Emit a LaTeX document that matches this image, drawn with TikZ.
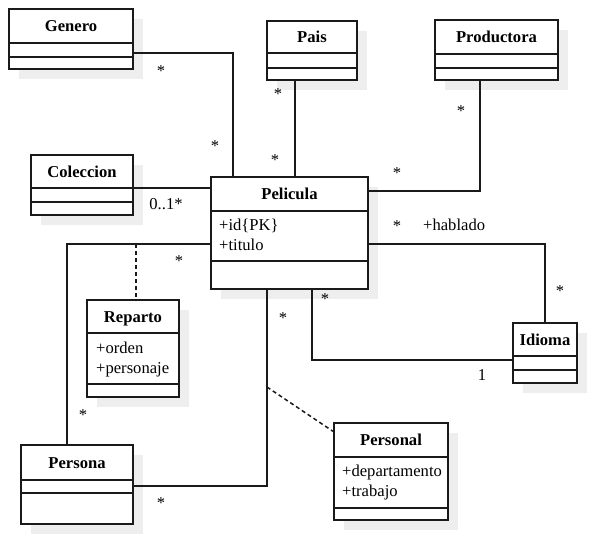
\documentclass[tikz,border=0pt]{standalone}
\usepackage{fontspec}
\setmainfont{Liberation Serif}
\usetikzlibrary{calc}
\definecolor{shadowgray}{HTML}{EEEEEE}
\definecolor{linec}{HTML}{1A1A1A}
\tikzset{
  cls/.style={draw=linec, line width=1.5pt, fill=white, inner sep=0pt, outer sep=0pt, anchor=north west},
  sepline/.style={draw=linec, line width=1.5pt},
  titletext/.style={font=\fontsize{16.6}{20}\selectfont\bfseries, anchor=base, inner sep=0pt},
  attrtext/.style={font=\fontsize{16.6}{20}\selectfont, anchor=base west, inner sep=0pt},
  multtext/.style={font=\fontsize{16.6}{20}\selectfont, anchor=base, inner sep=0pt},
  assoc/.style={draw=linec, line width=1.5pt},
  dep/.style={draw=linec, line width=1.5pt, dash pattern=on 4pt off 3pt},
}
% #1 name, #2 x1, #3 y1, #4 x2, #5 y2, #6 header line y, #7 second line y, #8 title
\newcommand{\umlcls}[8]{%
  \fill[shadowgray] (#2+10,#3+10) rectangle (#4+10,#5+10);
  \node[cls, minimum width={#4-#2}, minimum height={#5-#3}] (#1) at (#2,#3) {};
  \draw[sepline] (#2,#6) -- (#4,#6);
  \draw[sepline] (#2,#7) -- (#4,#7);
  \node[titletext] (#1-t) at ({(#2+#4)/2},{(#3+#6)/2+5.5}) {#8};
}
\begin{document}
\begin{tikzpicture}[x=1pt, y=-1pt]
\fill[white] (0,0) rectangle (607,554);
\useasboundingbox (0,0) rectangle (607,554);

\umlcls{genero}{9}{9}{133}{69}{43}{57}{Genero}
\umlcls{pais}{267}{21}{357}{80}{53}{68}{Pais}
\umlcls{productora}{435}{20}{558}{80}{54}{68}{Productora}
\umlcls{coleccion}{31}{155}{133}{215}{188}{202}{Coleccion}
\umlcls{pelicula}{211}{177}{368}{289}{211}{261}{Pelicula}
\umlcls{reparto}{87}{300}{179}{397}{333}{384}{Reparto}
\umlcls{idioma}{513}{323}{577}{383}{356}{370}{Idioma}
\umlcls{personal}{334}{423}{448}{520}{457}{508}{Personal}
\umlcls{persona}{21}{445}{133}{524}{480}{493}{Persona}

% attributes
\node[attrtext] (pel-a1) at (219,230) {+id\{PK\}};
\node[attrtext] (pel-a2) at (219,250) {+titulo};
\node[attrtext] (rep-a1) at (96,353) {+orden};
\node[attrtext] (rep-a2) at (96,373) {+personaje};
\node[attrtext] (per-a1) at (342,476) {+departamento};
\node[attrtext] (per-a2) at (342,496) {+trabajo};

% connectors
\coordinate (g1) at ($(genero.north east)+(0,44)$);
\coordinate (g2) at ($(pelicula.north west)+(22,0)$);
\draw[assoc] (g1) -| (g2);

\coordinate (pa1) at ($(pais.south west)+(28,0)$);
\draw[assoc] (pa1) -- (pa1 |- pelicula.north);

\coordinate (pr1) at ($(productora.south west)+(45,0)$);
\coordinate (pr2) at ($(pelicula.north east)+(0,14)$);
\draw[assoc] (pr1) |- (pr2);

\coordinate (c1) at ($(coleccion.north east)+(0,33)$);
\draw[assoc] (c1) -- (c1 -| pelicula.west);

\coordinate (h1) at ($(pelicula.north east)+(0,67)$);
\draw[assoc] (h1) -| (idioma.north);

\coordinate (i1) at ($(pelicula.south west)+(101,0)$);
\coordinate (i2) at ($(idioma.north west)+(0,37)$);
\draw[assoc] (i1) |- (i2);

\coordinate (pe1) at ($(pelicula.north west)+(0,67)$);
\coordinate (pe2) at ($(persona.north west)+(46,0)$);
\draw[assoc] (pe1) -| (pe2);

\coordinate (pe3) at ($(pelicula.south west)+(56,0)$);
\coordinate (pe4) at ($(persona.north east)+(0,41)$);
\draw[assoc] (pe3) |- (pe4);

\coordinate (r1) at ($(pelicula.north west)+(-75,67)$);
\draw[dep] (r1) -- (r1 |- reparto.north);

\coordinate (q1) at ($(pe3)+(0,98)$);
\coordinate (q2) at ($(personal.north west)+(0,9)$);
\draw[dep] (q1) -- (q2);

% multiplicities
\node[multtext] (m1) at (161,76) {*};
\node[multtext] (m2) at (215,151) {*};
\node[multtext] (m3) at (278,99) {*};
\node[multtext] (m4) at (275,165) {*};
\node[multtext] (m5) at (461,116) {*};
\node[multtext] (m6) at (397,178) {*};
\node[multtext] (m7) at (166,209) {0..1*};
\node[multtext] (m8) at (397,231) {*};
\node[attrtext] (m9) at (423,230) {+hablado};
\node[multtext] (m10) at (560,296) {*};
\node[multtext] (m11) at (325,304) {*};
\node[multtext] (m12) at (482,380) {1};
\node[multtext] (m13) at (179,266) {*};
\node[multtext] (m14) at (83,420) {*};
\node[multtext] (m15) at (161,508) {*};
\node[multtext] (m16) at (283,323) {*};
\end{tikzpicture}
\end{document}
